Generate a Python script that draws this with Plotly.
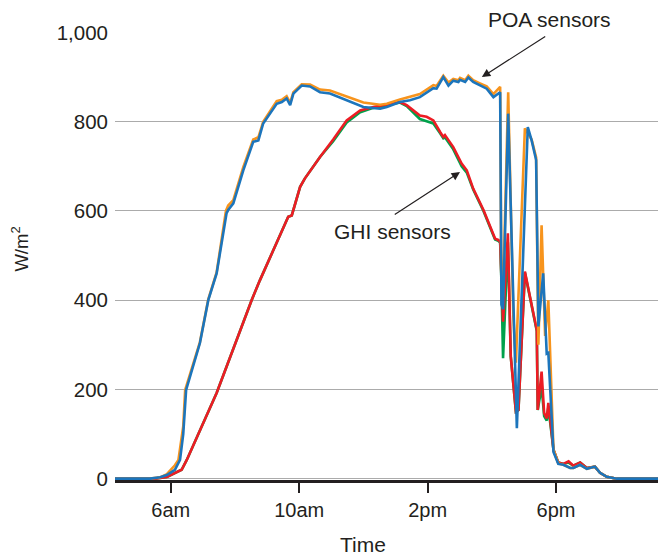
import plotly.graph_objects as go

# ---- data (time in decimal hours, irradiance in W/m2) ----
poa1_time = [4.265, 5.36, 5.67, 5.88, 6.13, 6.24, 6.39, 6.45, 6.91, 7.17, 7.43, 7.72, 7.79, 7.95,
             8.26, 8.57, 8.73, 8.88, 9.30, 9.46, 9.61, 9.72, 9.82, 10.08, 10.34, 10.65, 10.96,
             11.48, 12.00, 12.52, 12.73, 13.14, 13.45, 13.76, 14.18, 14.28, 14.49, 14.65, 14.80,
             14.96, 15.01, 15.17, 15.27, 15.42, 15.63, 15.84, 16.05, 16.26, 16.30, 16.35, 16.51,
             16.67, 16.75, 17.03, 17.24, 17.38, 17.45, 17.55, 17.66, 17.76, 17.92, 18.07, 18.23,
             18.44, 18.54, 18.75, 18.96, 19.21, 19.37, 19.58, 19.89, 21.30]
poa1_vals = [0, 0, 3, 10, 30, 42, 117, 199, 306, 402, 462, 600, 612, 624,
             698, 760, 765, 800, 846, 849, 857, 842, 866, 884, 883, 872, 870,
             856, 843, 838, 840, 850, 856, 862, 882, 880, 903, 888, 896,
             893, 898, 893, 903, 893, 886, 879, 862, 878, 400, 410, 866,
             363, 260, 785, 760, 720, 300, 568, 320, 400, 65, 34, 31,
             24, 24, 31, 22, 27, 13, 4, 0, 0]

poa2_time = [4.265, 5.36, 5.67, 5.88, 6.13, 6.29, 6.39, 6.45, 6.48, 6.91, 7.17, 7.43, 7.74, 7.79,
             7.95, 8.26, 8.57, 8.73, 8.88, 9.30, 9.46, 9.61, 9.72, 9.82, 10.08, 10.34, 10.65,
             10.96, 11.48, 12.00, 12.52, 12.73, 13.14, 13.45, 13.76, 14.18, 14.28, 14.49, 14.65,
             14.80, 14.96, 15.01, 15.17, 15.27, 15.42, 15.63, 15.84, 16.05, 16.26, 16.30, 16.35,
             16.51, 16.78, 17.12, 17.24, 17.38, 17.45, 17.60, 17.71, 17.76, 17.92, 18.07, 18.23,
             18.44, 18.54, 18.75, 18.96, 19.21, 19.37, 19.58, 19.89, 21.30]
poa2_vals = [0, 0, 3, 8, 20, 42, 100, 160, 199, 304, 400, 460, 595, 602,
             617, 691, 755, 758, 796, 840, 844, 852, 837, 863, 881, 879, 866,
             863, 848, 833, 829, 833, 844, 848, 855, 875, 874, 900, 881,
             892, 889, 894, 889, 899, 889, 881, 874, 855, 866, 390, 380,
             818, 113, 788, 758, 714, 341, 460, 280, 282, 60, 33, 31,
             24, 24, 31, 22, 27, 13, 4, 0, 0]

ghi_time = [4.265, 5.51, 5.88, 6.07, 6.34, 6.50, 7.43, 8.52, 8.78, 9.66, 9.77, 10.03, 10.18,
            10.65, 11.06, 11.48, 11.90, 12.31, 12.93, 13.14, 13.35, 13.56, 13.76, 13.97, 14.18,
            14.39, 14.49, 14.54, 14.80, 15.06, 15.22, 15.42, 15.74, 16.10, 16.20, 16.26, 16.30,
            16.35, 16.50, 16.59, 16.75, 16.83, 17.03, 17.40, 17.43, 17.55, 17.63, 17.71, 17.76,
            17.92, 18.07, 18.23, 18.39, 18.54, 18.75, 18.96, 19.21, 19.37, 19.58, 19.89, 21.30]
ghi1_vals = [0, 0, 4, 10, 20, 42, 192, 400, 445, 587, 590, 654, 673,
             721, 756, 798, 821, 831, 839, 843, 835, 820, 806, 801, 796,
             774, 763, 765, 738, 700, 686, 648, 600, 536, 533, 529, 440,
             270, 530, 274, 150, 154, 462, 331, 154, 206, 140, 130, 160,
             65, 36, 33, 36, 29, 36, 24, 27, 13, 4, 0, 0]
ghi2_vals = [0, 0, 4, 10, 20, 42, 192, 400, 445, 587, 590, 654, 673,
             721, 760, 803, 825, 833, 840, 844, 837, 825, 814, 811, 803,
             777, 766, 770, 743, 706, 691, 650, 602, 538, 535, 531, 450,
             352, 550, 274, 150, 154, 464, 333, 154, 240, 147, 135, 170,
             65, 36, 33, 39, 29, 36, 24, 27, 13, 4, 0, 0]

tick_hours = [6, 10, 14, 18]
tick_labels = ["6am", "10am", "2pm", "6pm"]
y_ticks = [0, 200, 400, 600, 800, 1000]

FONT = "Liberation Sans, Arial, Helvetica, sans-serif"
INK = "#231F20"

fig = go.Figure()
series = [
    (ghi_time, ghi1_vals, "#00A14B"),
    (ghi_time, ghi2_vals, "#ED1C24"),
    (poa1_time, poa1_vals, "#F7941D"),
    (poa2_time, poa2_vals, "#1C75BC"),
]
for t, v, c in series:
    fig.add_trace(go.Scatter(x=t, y=v, mode="lines",
                             line=dict(color=c, width=2.6),
                             hoverinfo="skip", showlegend=False))

# the page body has an 8px margin, so the figure is sized to fit the window
fig.update_layout(
    width=658, height=549,
    margin=dict(l=107, r=4, t=24, b=77),
    paper_bgcolor="white", plot_bgcolor="white",
    font=dict(family=FONT, size=20, color=INK),
    showlegend=False,
)
fig.update_xaxes(range=[4.265, 21.30], tickmode="array", tickvals=tick_hours,
                 ticktext=tick_labels, ticks="outside", ticklen=10, tickwidth=2,
                 tickcolor=INK, showline=True, linecolor=INK, linewidth=2.5,
                 showgrid=False, zeroline=False, layer="below traces",
                 tickfont=dict(size=20, color=INK))
fig.update_yaxes(range=[-3, 1001], tickmode="array", tickvals=y_ticks,
                 tickformat=",", showgrid=True, gridcolor="#ABABAB", gridwidth=1.4,
                 zeroline=False, showline=False, ticks="", ticklabelstandoff=6,
                 layer="below traces", tickfont=dict(size=20.5, color=INK))

anns = [
    dict(x=17.81, y=1.0268, xref="x", yref="paper", text="POA sensors", showarrow=False,
         xanchor="center", yanchor="middle", font=dict(size=21, color=INK)),
    dict(x=15.69, y=900, ax=17.71, ay=993, xref="x", yref="y", axref="x", ayref="y",
         text="", showarrow=True, arrowhead=2, arrowsize=1.4, arrowwidth=1.2, arrowcolor=INK),
    dict(x=12.91, y=553, xref="x", yref="y", text="GHI sensors", showarrow=False,
         xanchor="center", yanchor="middle", font=dict(size=21, color=INK)),
    dict(x=15.01, y=687, ax=12.93, ay=590, xref="x", yref="y", axref="x", ayref="y",
         text="", showarrow=True, arrowhead=2, arrowsize=1.4, arrowwidth=1.2, arrowcolor=INK),
    dict(x=-0.1737, y=0.5165, xref="paper", yref="paper", text="W/m<sup>2</sup>",
         textangle=-90, showarrow=False, xanchor="center", yanchor="middle",
         font=dict(size=18.5, color=INK)),
    dict(x=12, y=-0.143, xref="x", yref="paper", text="Time", showarrow=False,
         xanchor="center", yanchor="middle", font=dict(size=21, color=INK)),
]
fig.update_layout(annotations=anns)

fig.write_html("out.html")
